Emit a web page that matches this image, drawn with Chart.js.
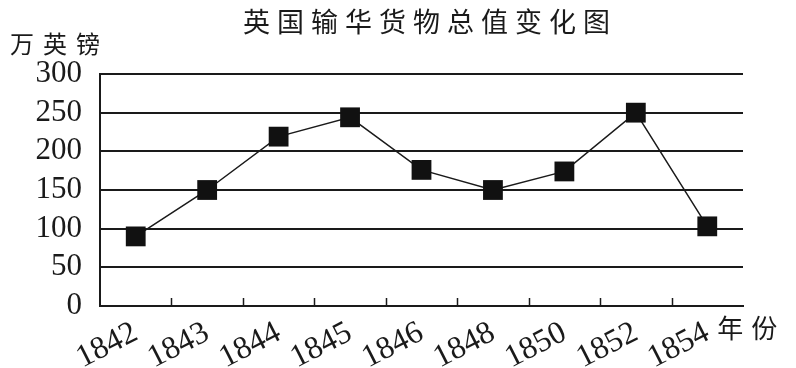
<!DOCTYPE html>
<html>
<head>
<meta charset="utf-8">
<script src="https://cdn.jsdelivr.net/npm/chart.js@4/dist/chart.umd.min.js"></script>
<style>
  html, body { margin: 0; padding: 0; background: #fff; }
  #wrap { width: 796px; height: 368px; }
</style>
</head>
<body>
<div id="wrap"><canvas id="chart"></canvas></div>
<script>
const years = ['1842', '1843', '1844', '1845', '1846', '1848', '1850', '1852', '1854'];
const values = [90, 150, 219, 244, 176, 150, 174, 250, 103];
const yTicks = [0, 50, 100, 150, 200, 250, 300];

const titleText = '英国输华货物总值变化图';
const unitText = '万英镑';
const xUnitText = '年份';

const ink = '#1a1a1a';
const cjk = '"Noto Sans CJK SC", sans-serif';
const serif = '"Liberation Serif", "DejaVu Serif", serif';

// title, unit labels and the small inward tick marks on the x axis
const decorations = {
    id: 'decorations',
    afterDraw(chart) {
        const ctx = chart.ctx;
        const x = chart.scales.x;
        const area = chart.chartArea;

        ctx.save();
        ctx.strokeStyle = ink;
        ctx.lineWidth = 1.5;
        for (let i = 1; i < years.length; i++) {
            const px = Math.round((x.getPixelForValue(i - 1) + x.getPixelForValue(i)) / 2) + 0.5;
            ctx.beginPath();
            ctx.moveTo(px, area.bottom);
            ctx.lineTo(px, area.bottom - 8);
            ctx.stroke();
        }

        ctx.fillStyle = ink;
        ctx.textBaseline = 'middle';

        ctx.font = '27px ' + cjk;
        ctx.letterSpacing = '7px';
        ctx.textAlign = 'center';
        ctx.fillText(titleText, 430, 22);

        ctx.font = '24px ' + cjk;
        ctx.letterSpacing = '9px';
        ctx.textAlign = 'left';
        ctx.fillText(unitText, 10, 44);

        ctx.font = '26px ' + cjk;
        ctx.letterSpacing = '8px';
        ctx.fillText(xUnitText, x.getPixelForValue(years.length - 1) + 10, area.bottom + 22);
        ctx.restore();
    },
};

new Chart(document.getElementById('chart'), {
    type: 'line',
    data: {
        labels: years,
        datasets: [{
            data: values,
            borderColor: ink,
            borderWidth: 1.5,
            backgroundColor: '#111',
            pointStyle: 'rect',
            pointRadius: 14,
            pointBorderWidth: 0,
            tension: 0,
        }],
    },
    options: {
        responsive: true,
        maintainAspectRatio: false,
        animation: false,
        layout: {
            padding: { top: 74, right: 53, left: 0, bottom: 0 },
        },
        plugins: {
            legend: { display: false },
            tooltip: { enabled: false },
        },
        scales: {
            x: {
                offset: true,
                grid: { display: false },
                border: { display: true, color: ink, width: 2 },
                ticks: {
                    color: ink,
                    font: { family: serif, size: 32 },
                    minRotation: 27,
                    maxRotation: 27,
                    autoSkip: false,
                    padding: 0,
                },
                afterFit(scale) { scale.height = 62; },
            },
            y: {
                min: 0,
                max: 300,
                afterBuildTicks(scale) { scale.ticks = yTicks.map(v => ({ value: v })); },
                grid: { color: ink, lineWidth: 2, drawTicks: false },
                border: { display: true, color: ink, width: 2 },
                ticks: {
                    color: ink,
                    font: { family: serif, size: 31 },
                    autoSkip: false,
                    padding: 18,
                },
                afterFit(scale) { scale.width = 100; },
            },
        },
    },
    plugins: [decorations],
});
</script>
</body>
</html>
